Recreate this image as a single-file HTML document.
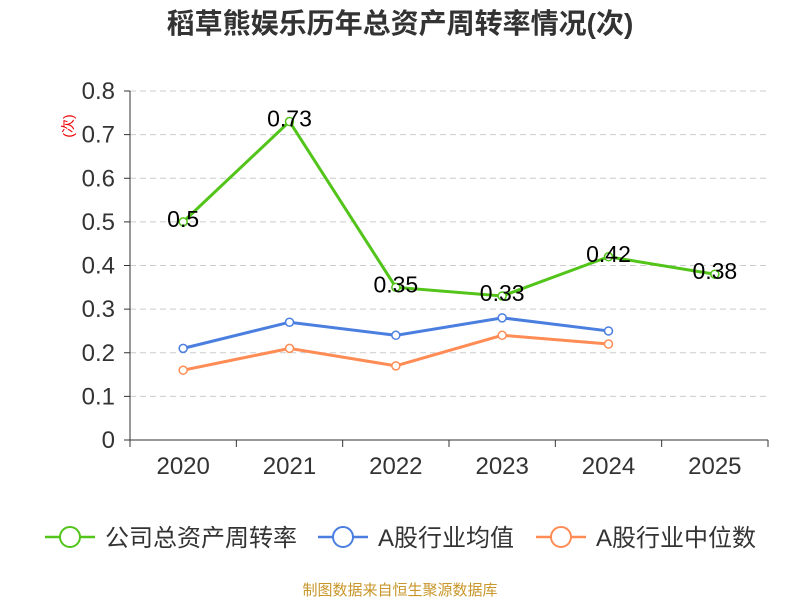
<!DOCTYPE html>
<html><head><meta charset="utf-8">
<style>
body{margin:0;background:#fff;}
svg text{font-family:"Liberation Sans","Noto Sans CJK SC",sans-serif;}
</style></head>
<body>
<svg id="chart" width="800" height="600" xmlns="http://www.w3.org/2000/svg">
<text x="400" y="33" text-anchor="middle" font-size="28" font-weight="bold" fill="#333">稻草熊娱乐历年总资产周转率情况(次)</text>
<text transform="translate(73,126) rotate(-90)" text-anchor="middle" font-size="14" fill="#e00">(次)</text>
<g id="grid"></g><g id="axes"></g><g id="series"></g>
<g>
 <g><line x1="45" y1="537" x2="95" y2="537" stroke="#52c41a" stroke-width="2.5"/><circle cx="70" cy="537" r="10" fill="#fff" stroke="#52c41a" stroke-width="2"/><text x="105" y="546" font-size="24" fill="#333">公司总资产周转率</text></g>
 <g><line x1="318" y1="537" x2="368" y2="537" stroke="#4a7fe0" stroke-width="2.5"/><circle cx="343" cy="537" r="10" fill="#fff" stroke="#4a7fe0" stroke-width="2"/><text x="378" y="546" font-size="24" fill="#333">A股行业均值</text></g>
 <g><line x1="536" y1="537" x2="586" y2="537" stroke="#ff8c55" stroke-width="2.5"/><circle cx="561" cy="537" r="10" fill="#fff" stroke="#ff8c55" stroke-width="2"/><text x="596" y="546" font-size="24" fill="#333">A股行业中位数</text></g>
</g>
<text x="400" y="595" text-anchor="middle" font-size="15" fill="#c8962a">制图数据来自恒生聚源数据库</text>
</svg>
<script>
const categories=["2020","2021","2022","2023","2024","2025"];
const companyValues=[0.5,0.73,0.35,0.33,0.42,0.38];
const averageValues=[0.21,0.27,0.24,0.28,0.25];
const medianValues=[0.16,0.21,0.17,0.24,0.22];
const yTicks=[0,0.1,0.2,0.3,0.4,0.5,0.6,0.7,0.8];
const yTickLabels=["0","0.1","0.2","0.3","0.4","0.5","0.6","0.7","0.8"];

const NS="http://www.w3.org/2000/svg";
const x0=130,x1=768,y0=440,yTop=91;
const band=(x1-x0)/categories.length;
const xs=i=>x0+band*(i+0.5);
const ys=v=>y0-(v/0.8)*(y0-yTop);
function mk(tag,attrs,parent){const e=document.createElementNS(NS,tag);for(const k in attrs)e.setAttribute(k,attrs[k]);parent.appendChild(e);return e;}
const grid=document.getElementById('grid'),axes=document.getElementById('axes'),ser=document.getElementById('series');
yTicks.forEach((t,i)=>{
 const y=ys(t);
 if(t>0){const g=mk('line',{x1:x0,x2:x1,y1:y,y2:y,stroke:'#ccc','stroke-dasharray':'6,4'},grid);
 
 }
 const tk=mk('line',{x1:x0-6,x2:x0,y1:y,y2:y,stroke:'#333'},axes);
 
 
 const tx=mk('text',{x:x0-15,y:y+8,'text-anchor':'end','font-size':24,fill:'#333'},axes);
 tx.textContent=yTickLabels[i];
 
 
});
const ya=mk('line',{x1:x0,x2:x0,y1:ys(0.8),y2:y0,stroke:'#333'},axes);


const xa=mk('line',{x1:x0,x2:x1,y1:y0,y2:y0,stroke:'#333'},axes);


for(let i=0;i<=categories.length;i++){
 const x=x0+band*i;
 const t=mk('line',{x1:x,x2:x,y1:y0,y2:y0+7,stroke:'#333'},axes);
 
 
}
categories.forEach((c,i)=>{
 const t=mk('text',{x:xs(i),y:474,'text-anchor':'middle','font-size':24,fill:'#333'},axes);
 t.textContent=c;
 
 
});
function drawSeries(vals,color,name,labels){
 const pts=vals.map((v,i)=>xs(i)+','+ys(v)).join(' ');
 const pl=mk('polyline',{points:pts,fill:'none',stroke:color,'stroke-width':3},ser);
 
 
 vals.forEach((v,i)=>{
  const c=mk('circle',{cx:xs(i),cy:ys(v),r:4,fill:'#fff',stroke:color,'stroke-width':1.5},ser);
  
  
  if(labels){
   const t=mk('text',{x:xs(i),y:ys(v)+5,'text-anchor':'middle','font-size':23,fill:'#000'},ser);
   t.textContent=String(v);
   
   
  }
 });
}
drawSeries(medianValues,'#ff8c55','median',false);
drawSeries(averageValues,'#4a7fe0','average',false);
drawSeries(companyValues,'#52c41a','company',true);
</script>
</body></html>
